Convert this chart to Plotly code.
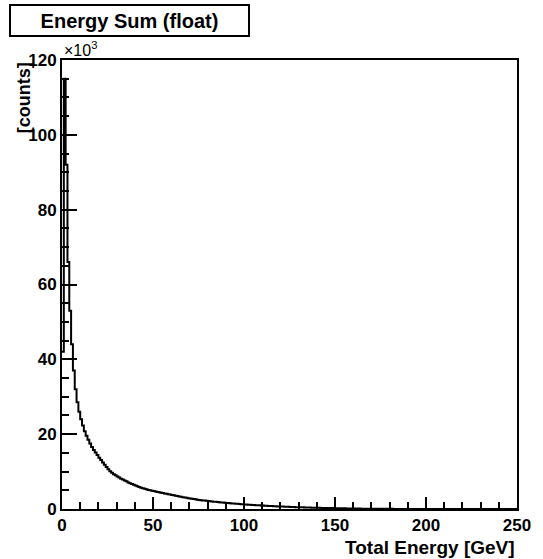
import plotly.graph_objects as go

# Histogram: 1 GeV bins from 0 to 250 GeV, contents in units of 10^3 counts
bin_low_edges = list(range(0, 250))
counts_k = [
    42, 115, 92, 66, 53, 44, 37, 32, 28.5, 26,
    24, 22.3, 20.8, 19.6, 18.5, 17.5, 16.6, 15.8, 15.1, 14.4,
    13.7, 13.1, 12.4, 11.8, 11.2, 10.6, 10.1, 9.7, 9.3, 9.0,
    8.7, 8.4, 8.1, 7.9, 7.6, 7.4, 7.1, 6.9, 6.7, 6.5,
    6.3, 6.1, 5.9, 5.7, 5.55, 5.4, 5.25, 5.1, 5.0, 4.9,
    4.8, 4.7, 4.55, 4.45, 4.35, 4.25, 4.15, 4.05, 3.95, 3.85,
    3.75, 3.65, 3.55, 3.45, 3.35, 3.25, 3.15, 3.06, 2.98, 2.9,
    2.82, 2.74, 2.66, 2.58, 2.5, 2.43, 2.36, 2.3, 2.24, 2.18,
    2.12, 2.07, 2.02, 1.97, 1.92, 1.87, 1.82, 1.77, 1.72, 1.67,
    1.62, 1.58, 1.54, 1.5, 1.46, 1.42, 1.38, 1.34, 1.3, 1.26,
    1.22, 1.19, 1.16, 1.12, 1.09, 1.06, 1.03, 1.0, 0.97, 0.94,
    0.91, 0.88, 0.85, 0.82, 0.8, 0.77, 0.75, 0.72, 0.7, 0.68,
    0.66, 0.64, 0.62, 0.6, 0.58, 0.56, 0.54, 0.52, 0.5, 0.49,
    0.47, 0.45, 0.44, 0.42, 0.41, 0.39, 0.38, 0.36, 0.35, 0.34,
    0.33, 0.31, 0.3, 0.29, 0.28, 0.27, 0.26, 0.25, 0.24, 0.23,
    0.22, 0.21, 0.2, 0.19, 0.18, 0.17, 0.16, 0.15, 0.15, 0.14,
    0.13, 0.12, 0.12, 0.11, 0.1, 0.1, 0.09, 0.09, 0.08, 0.08,
    0.07, 0.07, 0.06, 0.06, 0.06, 0.05, 0.05, 0.05, 0.04, 0.04,
    0.04, 0.04, 0.03, 0.03, 0.03, 0.03, 0.03, 0.02, 0.02, 0.02,
    0.02, 0.02, 0.02, 0.02, 0.01, 0.01, 0.01, 0.01, 0.01, 0.01,
    0.01, 0.01, 0.01, 0.01, 0.01, 0.01, 0, 0.01, 0, 0.01,
    0, 0.01, 0, 0, 0.01, 0, 0, 0, 0.01, 0,
    0, 0, 0, 0, 0, 0, 0, 0, 0, 0,
    0, 0, 0, 0, 0, 0, 0, 0, 0, 0,
    0, 0, 0, 0, 0, 0, 0, 0, 0, 0,
]
bin_width = 1
x_tick_vals = [0, 50, 100, 150, 200, 250]
y_tick_vals = [0, 20, 40, 60, 80, 100, 120]

title_text = "Energy Sum (float)"
x_title = "Total Energy [GeV]"
y_title = "[counts]"

edges = bin_low_edges + [bin_low_edges[-1] + bin_width]
step_y = counts_k + [counts_k[-1]]

fig = go.Figure()
fig.add_trace(go.Scatter(
    x=edges, y=step_y, mode="lines", line_shape="hv",
    line=dict(color="black", width=2), showlegend=False, hoverinfo="skip",
))

FONT = "Liberation Sans, Arial, sans-serif"
W, H = 543, 559
L, R, T, B = 62, 16, 60, 50
PW, PH = W - L - R, H - T - B

def px_to_paper(px, py):
    return (px - L) / PW, (H - B - py) / PH

common_axis = dict(
    showline=True, linecolor="black", linewidth=2, mirror=True,
    showgrid=False, zeroline=False, ticks="inside", tickcolor="black",
    tickwidth=2, tickfont=dict(family=FONT, size=17, color="black", weight="bold"),
)

fig.update_layout(
    width=W, height=H,
    margin=dict(l=L, r=R, t=T, b=B),
    paper_bgcolor="white", plot_bgcolor="white",
    xaxis=dict(range=[0, 250], tickvals=x_tick_vals, ticklen=12,
               minor=dict(dtick=10, ticks="inside", ticklen=7, tickwidth=2, tickcolor="black"),
               **common_axis),
    yaxis=dict(range=[0, 120], tickvals=y_tick_vals, ticklen=15,
               minor=dict(dtick=5, ticks="inside", ticklen=7, tickwidth=2, tickcolor="black"),
               **common_axis),
)

ax, ay = px_to_paper(527, 547)
fig.add_annotation(text=x_title, xref="paper", yref="paper", x=ax, y=ay,
                   xanchor="right", yanchor="middle", showarrow=False,
                   font=dict(family=FONT, size=19, color="black", weight="bold"))

ax, ay = px_to_paper(23, 60)
fig.add_annotation(text=y_title, xref="paper", yref="paper", x=ax, y=ay,
                   xanchor="center", yanchor="top", textangle=-90, showarrow=False,
                   font=dict(family=FONT, size=18, color="black", weight="bold"))

ax, ay = px_to_paper(62, 49)
fig.add_annotation(text="×10<sup>3</sup>", xref="paper", yref="paper", x=ax, y=ay,
                   xanchor="left", yanchor="middle", showarrow=False,
                   font=dict(family=FONT, size=16, color="black"))

ax, ay = px_to_paper(131, 21)
fig.add_annotation(text="<b>" + title_text + "</b>", xref="paper", yref="paper", x=ax, y=ay,
                   xanchor="center", yanchor="middle", showarrow=False,
                   width=233, height=25, bgcolor="white",
                   bordercolor="black", borderwidth=2, borderpad=2,
                   font=dict(family=FONT, size=20, color="black"))

fig.write_html("out.html")
